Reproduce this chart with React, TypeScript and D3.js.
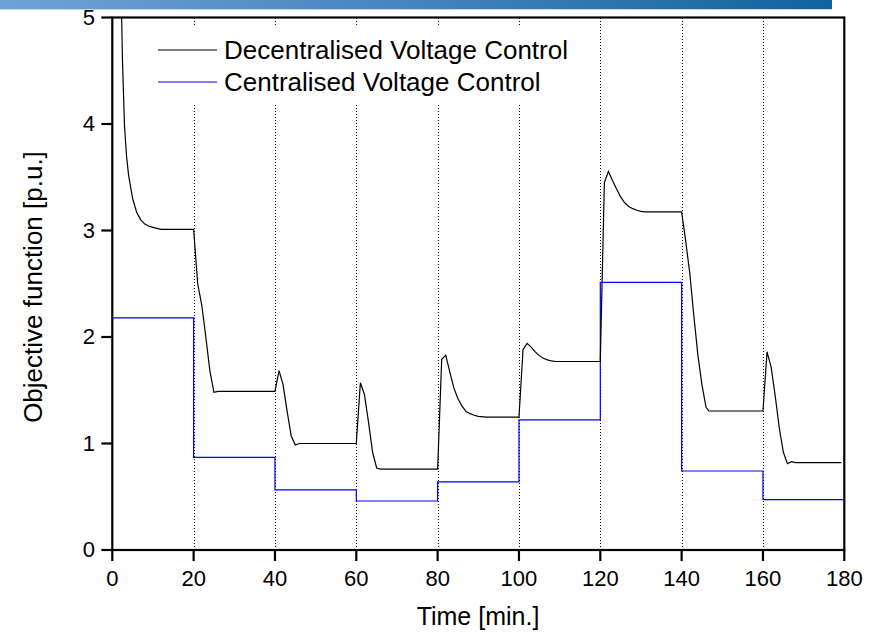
import React from "react";
import * as d3 from "d3";

// Decentralised Voltage Control (black curve)
const decT = [0, 1, 2, 2.5, 3, 3.5, 4, 5, 6, 7, 8, 9, 10, 11, 12, 20,
  21, 22, 23, 24, 25, 26, 40,
  41, 42, 43, 44, 45, 46, 60,
  61, 62, 63, 64, 65, 66, 80,
  81, 82, 83, 84, 85, 86, 87, 88, 89, 90, 92, 100,
  101, 102, 103, 104, 105, 106, 107, 108, 109, 120,
  121, 122, 123, 124, 125, 126, 127, 128, 129, 130, 131, 140,
  141, 142, 143, 144, 145, 146, 146.7, 160,
  161, 162, 163, 164, 165, 166, 167, 168, 179.3];
const decV = [12, 8, 5.6, 4.6, 3.98, 3.7, 3.52, 3.3, 3.17, 3.1, 3.06, 3.04, 3.03, 3.02, 3.01, 3.01,
  2.5, 2.3, 2.0, 1.68, 1.48, 1.49, 1.49,
  1.685, 1.55, 1.3, 1.07, 0.985, 1.0, 1.0,
  1.57, 1.46, 1.2, 0.92, 0.77, 0.76, 0.76,
  1.79, 1.83, 1.67, 1.52, 1.42, 1.35, 1.3, 1.28, 1.265, 1.255, 1.247, 1.247,
  1.88, 1.94, 1.905, 1.86, 1.825, 1.8, 1.785, 1.775, 1.77, 1.77,
  3.45, 3.555, 3.47, 3.39, 3.315, 3.26, 3.225, 3.205, 3.19, 3.18, 3.175, 3.175,
  2.9, 2.6, 2.2, 1.83, 1.55, 1.34, 1.305, 1.305,
  1.86, 1.72, 1.45, 1.15, 0.92, 0.81, 0.83, 0.82, 0.82];

// Centralised Voltage Control (blue step curve), one value per 20-min interval
const cenStarts = [0, 20, 40, 60, 80, 100, 120, 140, 160];
const cenV = [2.18, 0.87, 0.564, 0.46, 0.64, 1.222, 2.512, 0.742, 0.473];

const xTicks = [0, 20, 40, 60, 80, 100, 120, 140, 160, 180];
const yTicks = [0, 1, 2, 3, 4, 5];
const gridTimes = [20, 40, 60, 80, 100, 120, 140, 160];
const legendLabels = ["Decentralised Voltage Control", "Centralised Voltage Control"];
const legendColors = ["#000000", "#0000ff"];

const W = 881;
const H = 635;
const M = { left: 112.3, right: 844.3, top: 17.5, bottom: 550 };
const FONT = "'Liberation Sans', Arial, Helvetica, sans-serif";

export default function App() {
  const x = d3.scaleLinear().domain([0, 180]).range([M.left, M.right]);
  const y = d3.scaleLinear().domain([0, 5]).range([M.bottom, M.top]);

  const decData = decT.map((t, i) => [t, decV[i]] as [number, number]);
  const cenData: [number, number][] = cenStarts.map((t, i) => [t, cenV[i]]);
  cenData.push([180, cenV[cenV.length - 1]]);

  const line = d3.line<[number, number]>().x((d) => x(d[0])).y((d) => y(d[1]));
  const stepLine = d3
    .line<[number, number]>()
    .x((d) => x(d[0]))
    .y((d) => y(d[1]))
    .curve(d3.curveStepAfter);

  return (
    <div style={{ position: "absolute", left: 0, top: 0, width: W, height: H, background: "#fff" }}>
      <svg width={W} height={H} style={{ display: "block" }}>
        <defs>
          <linearGradient id="banner" x1="0" x2="1" y1="0" y2="0">
            <stop offset="0%" stopColor="#6fa3d6" />
            <stop offset="50%" stopColor="#4684bd" />
            <stop offset="100%" stopColor="#12639b" />
          </linearGradient>
          <clipPath id="plotClip">
            <rect x={M.left} y={M.top} width={M.right - M.left} height={M.bottom - M.top} />
          </clipPath>
        </defs>
        <rect x={0} y={0} width={W} height={H} fill="#fff" />
        <rect x={0} y={0} width={832} height={9} fill="url(#banner)" />
        <rect x={0} y={9} width={832} height={1} fill="#c6d8ea" />

        {/* dotted vertical lines */}
        {gridTimes.map((t) => (
          <line
            key={"g" + t}
            x1={Math.round(x(t)) + 0.5}
            x2={Math.round(x(t)) + 0.5}
            y1={M.top}
            y2={M.bottom}
            stroke="#000"
            strokeWidth={1}
            strokeDasharray="1,2"
            shapeRendering="crispEdges"
          />
        ))}

        {/* legend background */}
        <rect x={150} y={27} width={440} height={77} fill="#fff" />

        <g clipPath="url(#plotClip)">
          <path d={stepLine(cenData) || ""} fill="none" stroke="#0000ff" strokeWidth={1.2} />
          <path d={line(decData) || ""} fill="none" stroke="#000" strokeWidth={1.2} />
        </g>

        {/* frame */}
        <rect
          x={M.left}
          y={M.top}
          width={M.right - M.left}
          height={M.bottom - M.top}
          fill="none"
          stroke="#000"
          strokeWidth={2.2}
        />

        {/* y ticks */}
        {yTicks.map((v) => (
          <g key={"y" + v}>
            <line x1={M.left - 11} x2={M.left} y1={y(v)} y2={y(v)} stroke="#000" strokeWidth={2.2} />
            <text
              x={95}
              y={y(v)}
              dy="0.33em"
              textAnchor="end"
              fontFamily={FONT}
              fontSize={22}
              fill="#000"
            >
              {v}
            </text>
          </g>
        ))}

        {/* x ticks */}
        {xTicks.map((t) => (
          <g key={"x" + t}>
            <line x1={x(t)} x2={x(t)} y1={M.bottom} y2={M.bottom + 11} stroke="#000" strokeWidth={2.2} />
            <text
              x={x(t)}
              y={586}
              textAnchor="middle"
              fontFamily={FONT}
              fontSize={22}
              fill="#000"
            >
              {t}
            </text>
          </g>
        ))}

        {/* axis labels */}
        <text x={478} y={625} textAnchor="middle" fontFamily={FONT} fontSize={25} fill="#000">
          Time [min.]
        </text>
        <text
          transform="translate(42,287) rotate(-90)"
          textAnchor="middle"
          fontFamily={FONT}
          fontSize={26}
          fill="#000"
        >
          Objective function [p.u.]
        </text>

        {/* legend */}
        {legendLabels.map((lab, i) => (
          <g key={lab}>
            <line
              x1={158}
              x2={217}
              y1={50 + i * 32}
              y2={50 + i * 32}
              stroke={legendColors[i]}
              strokeWidth={1.2}
            />
            <text x={224} y={59 + i * 32} fontFamily={FONT} fontSize={26} fill="#000">
              {lab}
            </text>
          </g>
        ))}
      </svg>
    </div>
  );
}
